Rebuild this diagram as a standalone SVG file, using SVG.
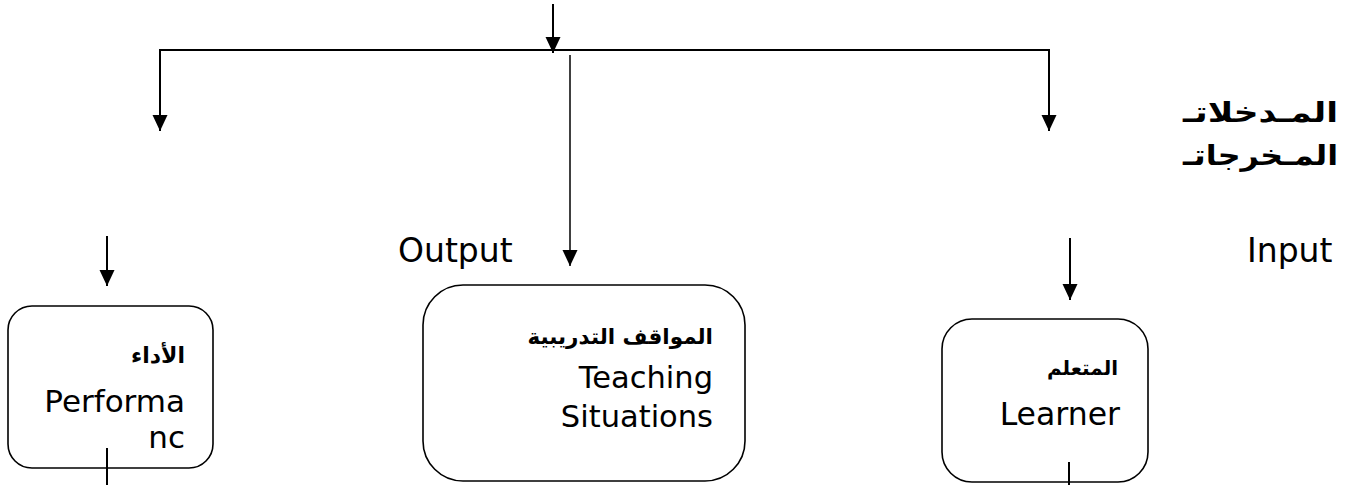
<svg xmlns="http://www.w3.org/2000/svg" width="1348" height="485" viewBox="0 0 1348 485">
<defs>
<marker id="ah" markerUnits="userSpaceOnUse" markerWidth="16" markerHeight="16" refX="16" refY="8" orient="auto" viewBox="0 0 16 16">
<path d="M0,0.5 L16,8 L0,15.5 Z" fill="#000"/>
</marker>
<style>
.ln{stroke:#000;stroke-width:2;fill:none}
.thin{stroke:#000;stroke-width:1.5;fill:none}
.box{fill:#fff;stroke:#000;stroke-width:1.6}
.en{font-family:"DejaVu Sans",sans-serif;fill:#000}
.ar{font-family:"DejaVu Sans","Noto Sans",sans-serif;fill:#000;font-weight:bold}
</style>
</defs>
<rect width="1348" height="485" fill="#fff"/>
<g id="nodes">
<g id="performance">
<rect class="box" x="8" y="306" width="205" height="162" rx="24" ry="24"/>
<text class="ar" x="185" y="363" font-size="22" text-anchor="end">الأداء</text>
<text class="en" x="185" y="412" font-size="31" text-anchor="end">Performa</text>
<text class="en" x="185" y="448" font-size="31" text-anchor="end">nc</text>
</g>
<g id="teaching">
<rect class="box" x="423" y="285" width="322" height="196" rx="40" ry="40"/>
<text class="ar" x="713" y="344" font-size="21.5" text-anchor="end">المواقف التدريبية</text>
<text class="en" x="713" y="388" font-size="30.5" text-anchor="end">Teaching</text>
<text class="en" x="713" y="427" font-size="30.5" text-anchor="end">Situations</text>
</g>
<g id="learner">
<rect class="box" x="942" y="319" width="206" height="163" rx="30" ry="30"/>
<text class="ar" x="1118" y="375" font-size="20" text-anchor="end">المتعلم</text>
<text class="en" x="1120" y="425" font-size="31.5" text-anchor="end">Learner</text>
</g>
<g id="labels">
<text class="en" x="398" y="262" font-size="33">Output</text>
<text class="en" x="1247" y="262" font-size="33">Input</text>
<text class="ar" x="1338" y="122" font-size="28" text-anchor="end" textLength="155" lengthAdjust="spacingAndGlyphs">المـدخلاتـ</text>
<text class="ar" x="1338" y="165" font-size="28" text-anchor="end" textLength="155" lengthAdjust="spacingAndGlyphs">المـخرجاتـ</text>
</g>
</g>
<g id="connectors">
<line class="ln" x1="553" y1="4" x2="553" y2="53" marker-end="url(#ah)"/>
<polyline class="ln" points="160,115 160,50 1049,50 1049,115"/>
<line class="ln" x1="160" y1="100" x2="160" y2="131" marker-end="url(#ah)"/>
<line class="ln" x1="1049" y1="100" x2="1049" y2="131" marker-end="url(#ah)"/>
<line class="thin" x1="570" y1="55" x2="570" y2="266" marker-end="url(#ah)"/>
<line class="ln" x1="107" y1="236" x2="107" y2="286" marker-end="url(#ah)"/>
<line class="ln" x1="1070" y1="238" x2="1070" y2="300" marker-end="url(#ah)"/>
<line class="ln" x1="107" y1="448" x2="107" y2="485"/>
<line class="ln" x1="1069" y1="462" x2="1069" y2="485"/>
</g>
</svg>
